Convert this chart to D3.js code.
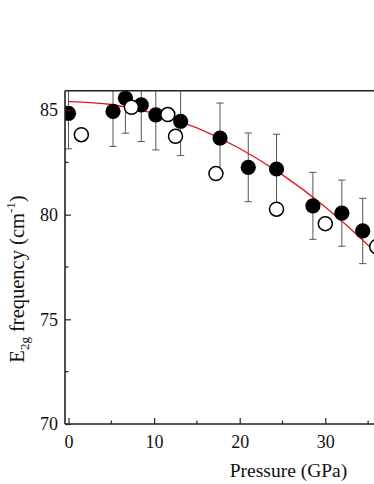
<!DOCTYPE html>
<html>
<head>
<meta charset="utf-8">
<script src="https://cdn.jsdelivr.net/npm/d3@7"></script>
<style>
  body { margin: 0; background: #fff; }
  svg { display: block; }
  text { font-family: 'Liberation Serif', 'Times New Roman', serif; fill: #111; }
</style>
</head>
<body>
<svg id="chart" width="374" height="484"></svg>
<script>
// filled symbols with error bars
const filledP = [0, 5.2, 6.65, 8.5, 10.2, 13.1, 17.7, 21.0, 24.3, 28.55, 31.93, 34.37, 36.2];
const filledE = [84.84, 84.93, 85.56, 85.24, 84.77, 84.46, 83.66, 82.26, 82.18, 80.42, 80.07, 79.22, 78.44];
const filledErr = [1.7, 1.67, 1.67, 1.75, 1.68, 1.64, 1.67, 1.64, 1.66, 1.6, 1.58, 1.56, 1.63];

// open symbols
const openP = [1.5, 7.35, 11.6, 12.5, 17.22, 24.3, 30.0, 36.0];
const openE = [83.82, 85.13, 84.78, 83.74, 81.96, 80.26, 79.57, 78.47];

// red fit line
const fitP = [0, 5, 10, 15, 20, 25, 30, 35, 37];
const fitE = [85.40, 85.26, 84.84, 84.14, 83.16, 81.90, 80.36, 78.54, 77.73];

const xTicks = [0, 10, 20, 30];
const xMinor = [5, 15, 25, 35];
const yTicks = [70, 75, 80, 85];
const yMinor = [72.5, 77.5, 82.5];

const svg = d3.select('#chart');

const x = d3.scaleLinear().domain([-0.41, 40]).range([65, 65 + 40.41 * 8.56]);
const y = d3.scaleLinear().domain([70, 85.92]).range([424, 90.7]);

const plotL = x.range()[0], plotR = x.range()[1];
const plotT = y.range()[1], plotB = y.range()[0];

svg.append('defs').append('clipPath').attr('id', 'plotClip')
  .append('rect')
  .attr('x', plotL).attr('y', plotT)
  .attr('width', plotR - plotL).attr('height', plotB - plotT);

const plot = svg.append('g').attr('clip-path', 'url(#plotClip)');

// error bars
const capW = 3.6;
const bars = plot.append('g').attr('stroke', '#555').attr('stroke-width', 1).attr('fill', 'none');
filledP.forEach((p, i) => {
  const cx = x(p);
  const top = y(filledE[i] + filledErr[i]);
  const bot = y(filledE[i] - filledErr[i]);
  bars.append('line').attr('x1', cx).attr('x2', cx).attr('y1', top).attr('y2', bot);
  bars.append('line').attr('x1', cx - capW).attr('x2', cx + capW).attr('y1', top).attr('y2', top);
  bars.append('line').attr('x1', cx - capW).attr('x2', cx + capW).attr('y1', bot).attr('y2', bot);
});

// fit line
const line = d3.line().x((d, i) => x(fitP[i])).y(d => y(d)).curve(d3.curveMonotoneX);
plot.append('path')
  .attr('d', line(fitE))
  .attr('fill', 'none')
  .attr('stroke', '#e8141a')
  .attr('stroke-width', 1.3);

// filled circles
plot.append('g').selectAll('circle')
  .data(filledP)
  .join('circle')
  .attr('cx', d => x(d))
  .attr('cy', (d, i) => y(filledE[i]))
  .attr('r', 7.6)
  .attr('fill', '#000');

// open circles
plot.append('g').selectAll('circle')
  .data(openP)
  .join('circle')
  .attr('cx', d => x(d))
  .attr('cy', (d, i) => y(openE[i]))
  .attr('r', 7)
  .attr('fill', '#fff')
  .attr('stroke', '#000')
  .attr('stroke-width', 1.5);

// axes
const axisColor = '#222';
const xAxis = svg.append('g').attr('transform', `translate(0,${plotB})`)
  .call(d3.axisBottom(x).tickValues(xTicks).tickSizeInner(-6).tickSizeOuter(0).tickPadding(11).tickFormat(d3.format('d')));
xAxis.append('g').selectAll('line')
  .data(xMinor)
  .join('line')
  .attr('x1', d => x(d)).attr('x2', d => x(d))
  .attr('y1', 0).attr('y2', -3.5)
  .attr('stroke', axisColor).attr('stroke-width', 1.2);

const yAxis = svg.append('g').attr('transform', `translate(${plotL},0)`)
  .call(d3.axisLeft(y).tickValues(yTicks).tickSizeInner(-6).tickSizeOuter(0).tickPadding(7).tickFormat(d3.format('d')));
yAxis.append('g').selectAll('line')
  .data(yMinor)
  .join('line')
  .attr('x1', 0).attr('x2', 3.5)
  .attr('y1', d => y(d)).attr('y2', d => y(d))
  .attr('stroke', axisColor).attr('stroke-width', 1.2);

[xAxis, yAxis].forEach(ax => {
  ax.select('.domain').attr('stroke', axisColor).attr('stroke-width', 1.6);
  ax.selectAll('.tick line').attr('stroke', axisColor).attr('stroke-width', 1.2);
  ax.selectAll('.tick text').attr('font-size', 18).attr('fill', '#111')
    .style('font-family', "'Liberation Serif', 'Times New Roman', serif");
});
xAxis.select('.domain').attr('d', `M${plotL},0H${plotR}`);
yAxis.select('.domain').attr('d', `M0,${plotB}V${plotT}`);

// top frame line
svg.append('line')
  .attr('x1', plotL).attr('x2', plotR)
  .attr('y1', plotT).attr('y2', plotT)
  .attr('stroke', axisColor).attr('stroke-width', 1.6);

// axis titles
svg.append('text')
  .attr('x', 288.5).attr('y', 477)
  .attr('text-anchor', 'middle')
  .attr('font-size', 19.5)
  .text('Pressure (GPa)');

const yTitle = svg.append('text')
  .attr('transform', 'translate(23.5,279) rotate(-90)')
  .attr('text-anchor', 'middle')
  .attr('font-size', 20.5);
yTitle.append('tspan').text('E');
yTitle.append('tspan').attr('font-size', 13).attr('dy', 5).text('2g');
yTitle.append('tspan').attr('dy', -5).text('  frequency (cm');
yTitle.append('tspan').attr('font-size', 13).attr('dy', -9).text('-1');
yTitle.append('tspan').attr('dy', 9).text(')');
</script>
</body>
</html>
